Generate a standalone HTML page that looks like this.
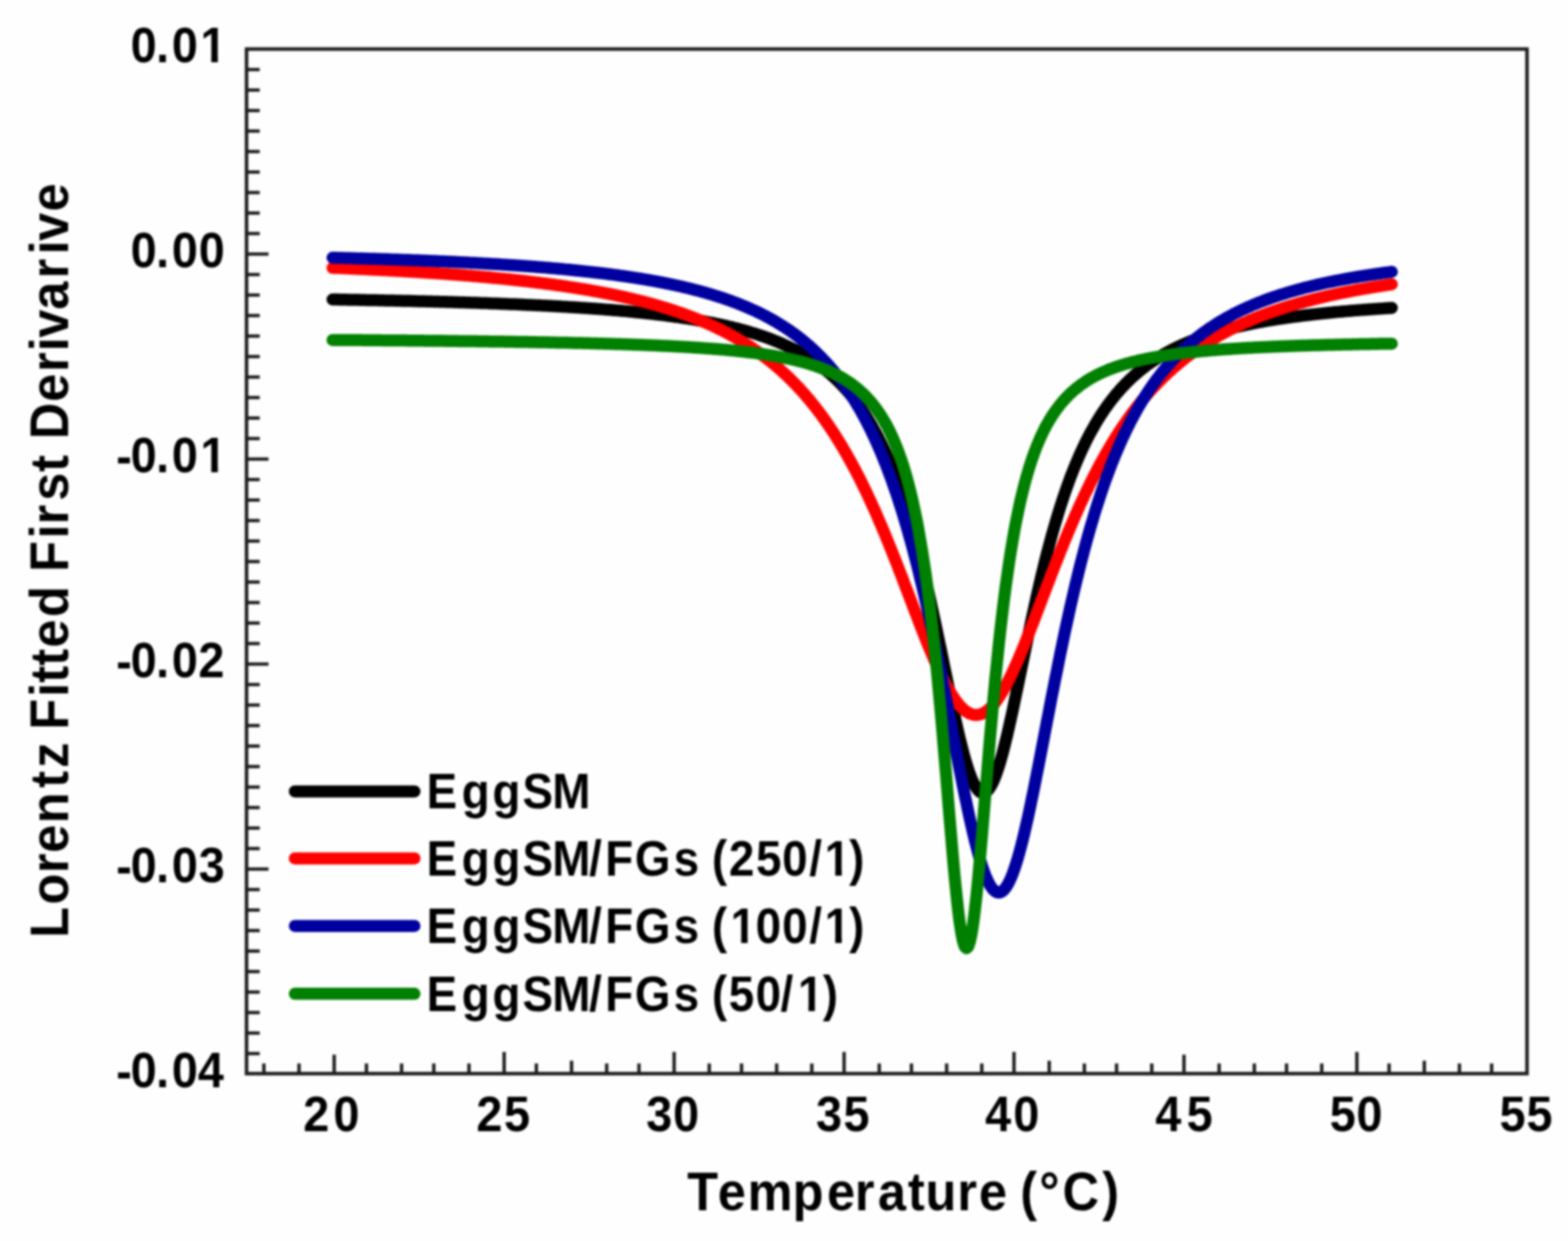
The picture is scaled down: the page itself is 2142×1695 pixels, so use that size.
<!DOCTYPE html>
<html lang="en"><head><meta charset="utf-8"><title>Lorentz Fitted First Derivative</title>
<style>
html,body{margin:0;padding:0;background:#fefefe;}
body{width:2142px;height:1695px;overflow:hidden;}
svg{display:block;}
text{font-family:"Liberation Sans",sans-serif;font-weight:bold;fill:#000;}
.tick{font-size:68px;}
.title{font-size:73.5px;}
.leg{font-size:68px;}
.curves path{fill:none;stroke-width:16.5;stroke-linecap:round;stroke-linejoin:round;}
.ax{stroke:#1c1c1c;fill:none;}
</style></head><body>
<svg width="2142" height="1695" viewBox="0 0 2142 1695">
<defs><filter id="soft" filterUnits="userSpaceOnUse" x="-40" y="-40" width="2222" height="1775" color-interpolation-filters="sRGB"><feGaussianBlur stdDeviation="1.55"/></filter></defs>
<g id="chart" filter="url(#soft)">
<rect x="-40" y="-40" width="2222" height="1775" fill="#fefefe"/>
<path class="ax" stroke-width="4.6" d="M336.8 1439.0 h18 M336.8 1411.0 h18 M336.8 1383.0 h18 M336.8 1355.0 h18 M336.8 1327.0 h18 M336.8 1299.0 h18 M336.8 1271.0 h18 M336.8 1243.0 h18 M336.8 1215.0 h18 M336.8 1187.0 h30 M336.8 1159.0 h18 M336.8 1131.0 h18 M336.8 1103.0 h18 M336.8 1075.0 h18 M336.8 1047.0 h18 M336.8 1019.0 h18 M336.8 991.0 h18 M336.8 963.0 h18 M336.8 935.0 h18 M336.8 907.0 h30 M336.8 879.0 h18 M336.8 851.0 h18 M336.8 823.0 h18 M336.8 795.0 h18 M336.8 767.0 h18 M336.8 739.0 h18 M336.8 711.0 h18 M336.8 683.0 h18 M336.8 655.0 h18 M336.8 627.0 h30 M336.8 599.0 h18 M336.8 571.0 h18 M336.8 543.0 h18 M336.8 515.0 h18 M336.8 487.0 h18 M336.8 459.0 h18 M336.8 431.0 h18 M336.8 403.0 h18 M336.8 375.0 h18 M336.8 347.0 h30 M336.8 319.0 h18 M336.8 291.0 h18 M336.8 263.0 h18 M336.8 235.0 h18 M336.8 207.0 h18 M336.8 179.0 h18 M336.8 151.0 h18 M336.8 123.0 h18 M336.8 95.0 h18 M360.5 1466.4 v-14.0 M408.5 1466.4 v-14.0 M456.5 1466.4 v-25.8 M500.6 1466.4 v-14.0 M548.6 1466.4 v-14.0 M592.6 1466.4 v-14.0 M640.7 1466.4 v-14.0 M688.7 1466.4 v-29.6 M732.7 1466.4 v-14.0 M780.8 1466.4 v-17.6 M828.8 1466.4 v-14.0 M872.9 1466.4 v-14.0 M920.9 1466.4 v-29.6 M968.9 1466.4 v-14.0 M1013.0 1466.4 v-14.0 M1061.0 1466.4 v-14.0 M1109.0 1466.4 v-14.0 M1153.1 1466.4 v-29.6 M1201.1 1466.4 v-14.0 M1245.1 1466.4 v-14.0 M1293.2 1466.4 v-14.0 M1341.2 1466.4 v-14.0 M1385.2 1466.4 v-29.6 M1433.3 1466.4 v-17.6 M1481.3 1466.4 v-14.0 M1525.3 1466.4 v-14.0 M1573.4 1466.4 v-14.0 M1617.4 1466.4 v-25.8 M1665.4 1466.4 v-14.0 M1713.5 1466.4 v-14.0 M1757.5 1466.4 v-14.0 M1805.6 1466.4 v-14.0 M1853.6 1466.4 v-29.6 M1897.6 1466.4 v-14.0 M1945.7 1466.4 v-17.6 M1993.7 1466.4 v-14.0 M2037.7 1466.4 v-14.0"/>
<rect class="ax" x="336.8" y="67.0" width="1749.2" height="1399.4" stroke-width="4.8"/>
<g class="curves">
<path d="M454.3 409.0 L456.7 409.1 L459.0 409.1 L461.3 409.1 L463.7 409.2 L466.0 409.2 L468.3 409.3 L470.7 409.3 L473.0 409.3 L475.3 409.4 L477.7 409.4 L480.0 409.5 L482.3 409.5 L484.7 409.6 L487.0 409.6 L489.3 409.6 L491.7 409.7 L494.0 409.7 L496.3 409.8 L498.7 409.8 L501.0 409.9 L503.3 409.9 L505.7 409.9 L508.0 410.0 L510.3 410.0 L512.7 410.1 L515.0 410.1 L517.3 410.2 L519.7 410.2 L522.0 410.3 L524.3 410.3 L526.7 410.4 L529.0 410.4 L531.4 410.5 L533.7 410.5 L536.0 410.6 L538.4 410.6 L540.7 410.7 L543.0 410.7 L545.4 410.8 L547.7 410.8 L550.0 410.9 L552.4 410.9 L554.7 411.0 L557.0 411.0 L559.4 411.1 L561.7 411.1 L564.0 411.2 L566.4 411.3 L568.7 411.3 L571.0 411.4 L573.4 411.4 L575.7 411.5 L578.0 411.5 L580.4 411.6 L582.7 411.7 L585.0 411.7 L587.4 411.8 L589.7 411.8 L592.0 411.9 L594.4 412.0 L596.7 412.0 L599.0 412.1 L601.4 412.2 L603.7 412.2 L606.0 412.3 L608.4 412.3 L610.7 412.4 L613.0 412.5 L615.4 412.5 L617.7 412.6 L620.0 412.7 L622.4 412.8 L624.7 412.8 L627.0 412.9 L629.4 413.0 L631.7 413.0 L634.0 413.1 L636.4 413.2 L638.7 413.3 L641.0 413.3 L643.4 413.4 L645.7 413.5 L648.0 413.6 L650.4 413.6 L652.7 413.7 L655.0 413.8 L657.4 413.9 L659.7 414.0 L662.0 414.0 L664.4 414.1 L666.7 414.2 L669.0 414.3 L671.4 414.4 L673.7 414.5 L676.0 414.5 L678.4 414.6 L680.7 414.7 L683.0 414.8 L685.4 414.9 L687.7 415.0 L690.0 415.1 L692.4 415.2 L694.7 415.3 L697.0 415.4 L699.4 415.5 L701.7 415.5 L704.0 415.6 L706.4 415.7 L708.7 415.8 L711.1 415.9 L713.4 416.0 L715.7 416.2 L718.1 416.3 L720.4 416.4 L722.7 416.5 L725.1 416.6 L727.4 416.7 L729.7 416.8 L732.1 416.9 L734.4 417.0 L736.7 417.1 L739.1 417.2 L741.4 417.4 L743.7 417.5 L746.1 417.6 L748.4 417.7 L750.7 417.8 L753.1 418.0 L755.4 418.1 L757.7 418.2 L760.1 418.3 L762.4 418.5 L764.7 418.6 L767.1 418.7 L769.4 418.9 L771.7 419.0 L774.1 419.1 L776.4 419.3 L778.7 419.4 L781.1 419.5 L783.4 419.7 L785.7 419.8 L788.1 420.0 L790.4 420.1 L792.7 420.3 L795.1 420.4 L797.4 420.6 L799.7 420.7 L802.1 420.9 L804.4 421.1 L806.7 421.2 L809.1 421.4 L811.4 421.5 L813.7 421.7 L816.1 421.9 L818.4 422.1 L820.7 422.2 L823.1 422.4 L825.4 422.6 L827.7 422.8 L830.1 422.9 L832.4 423.1 L834.7 423.3 L837.1 423.5 L839.4 423.7 L841.7 423.9 L844.1 424.1 L846.4 424.3 L848.7 424.5 L851.1 424.7 L853.4 424.9 L855.7 425.1 L858.1 425.3 L860.4 425.6 L862.7 425.8 L865.1 426.0 L867.4 426.2 L869.7 426.5 L872.1 426.7 L874.4 426.9 L876.7 427.2 L879.1 427.4 L881.4 427.7 L883.7 427.9 L886.1 428.2 L888.4 428.4 L890.7 428.7 L893.1 428.9 L895.4 429.2 L897.8 429.5 L900.1 429.8 L902.4 430.0 L904.8 430.3 L907.1 430.6 L909.4 430.9 L911.8 431.2 L914.1 431.5 L916.4 431.8 L918.8 432.1 L921.1 432.5 L923.4 432.8 L925.8 433.1 L928.1 433.4 L930.4 433.8 L932.8 434.1 L935.1 434.5 L937.4 434.8 L939.8 435.2 L942.1 435.6 L944.4 435.9 L946.8 436.3 L949.1 436.7 L951.4 437.1 L953.8 437.5 L956.1 437.9 L958.4 438.3 L960.8 438.7 L963.1 439.1 L965.4 439.6 L967.8 440.0 L970.1 440.5 L972.4 440.9 L974.8 441.4 L977.1 441.9 L979.4 442.3 L981.8 442.8 L984.1 443.3 L986.4 443.8 L988.8 444.4 L991.1 444.9 L993.4 445.4 L995.8 446.0 L998.1 446.5 L1000.4 447.1 L1002.8 447.7 L1005.1 448.2 L1007.4 448.8 L1009.8 449.4 L1012.1 450.1 L1014.4 450.7 L1016.8 451.3 L1019.1 452.0 L1021.4 452.7 L1023.8 453.4 L1026.1 454.1 L1028.4 454.8 L1030.8 455.5 L1033.1 456.2 L1035.4 457.0 L1037.8 457.8 L1040.1 458.6 L1042.4 459.4 L1044.8 460.2 L1047.1 461.0 L1049.4 461.9 L1051.8 462.7 L1054.1 463.6 L1056.4 464.6 L1058.8 465.5 L1061.1 466.4 L1063.4 467.4 L1065.8 468.4 L1068.1 469.4 L1070.4 470.5 L1072.8 471.5 L1075.1 472.6 L1077.5 473.7 L1079.8 474.9 L1082.1 476.0 L1084.5 477.2 L1086.8 478.4 L1089.1 479.7 L1091.5 480.9 L1093.8 482.3 L1096.1 483.6 L1098.5 485.0 L1100.8 486.4 L1103.1 487.8 L1105.5 489.3 L1107.8 490.8 L1110.1 492.3 L1112.5 493.9 L1114.8 495.5 L1117.1 497.2 L1119.5 498.9 L1121.8 500.7 L1124.1 502.5 L1126.5 504.3 L1128.8 506.2 L1131.1 508.2 L1133.5 510.1 L1135.8 512.2 L1138.1 514.3 L1140.5 516.5 L1142.8 518.7 L1145.1 521.0 L1147.5 523.3 L1149.8 525.7 L1152.1 528.2 L1154.5 530.7 L1156.8 533.3 L1159.1 536.0 L1161.5 538.8 L1163.8 541.6 L1166.1 544.6 L1168.5 547.6 L1170.8 550.7 L1173.1 553.9 L1175.5 557.2 L1177.8 560.5 L1180.1 564.0 L1182.5 567.6 L1184.8 571.3 L1187.1 575.1 L1189.5 579.0 L1191.8 583.1 L1194.1 587.2 L1196.5 591.5 L1198.8 595.9 L1201.1 600.5 L1203.5 605.2 L1205.8 610.0 L1208.1 615.0 L1210.5 620.2 L1212.8 625.5 L1215.1 630.9 L1217.5 636.6 L1219.8 642.4 L1222.1 648.3 L1224.5 654.5 L1226.8 660.8 L1229.1 667.4 L1231.5 674.1 L1233.8 681.1 L1236.1 688.2 L1238.5 695.6 L1240.8 703.1 L1243.1 710.9 L1245.5 718.9 L1247.8 727.1 L1250.1 735.6 L1252.5 744.3 L1254.8 753.2 L1257.1 762.3 L1259.5 771.6 L1261.8 781.2 L1264.2 790.9 L1266.5 800.9 L1268.8 811.1 L1271.2 821.5 L1273.5 832.1 L1275.8 842.8 L1278.2 853.7 L1280.5 864.7 L1282.8 875.9 L1285.2 887.1 L1287.5 898.4 L1289.8 909.8 L1292.2 921.1 L1294.5 932.4 L1296.8 943.7 L1299.2 954.9 L1301.5 965.9 L1303.8 976.7 L1306.2 987.3 L1308.5 997.6 L1310.8 1007.6 L1313.2 1017.1 L1315.5 1026.2 L1317.8 1034.8 L1320.2 1042.9 L1322.5 1050.3 L1324.8 1057.1 L1327.2 1063.2 L1329.5 1068.5 L1331.8 1073.1 L1334.2 1076.8 L1336.5 1079.7 L1338.8 1081.7 L1341.2 1082.8 L1342.9 1083.0 L1343.5 1083.0 L1345.8 1082.3 L1348.2 1080.7 L1350.5 1078.3 L1352.8 1075.0 L1355.2 1070.8 L1357.5 1065.9 L1359.8 1060.1 L1362.2 1053.7 L1364.5 1046.6 L1366.8 1038.8 L1369.2 1030.5 L1371.5 1021.6 L1373.8 1012.2 L1376.2 1002.5 L1378.5 992.3 L1380.8 981.9 L1383.2 971.2 L1385.5 960.3 L1387.8 949.2 L1390.2 937.9 L1392.5 926.6 L1394.8 915.3 L1397.2 903.9 L1399.5 892.6 L1401.8 881.3 L1404.2 870.1 L1406.5 859.1 L1408.8 848.1 L1411.2 837.3 L1413.5 826.7 L1415.8 816.2 L1418.2 805.9 L1420.5 795.8 L1422.8 786.0 L1425.2 776.3 L1427.5 766.8 L1429.8 757.6 L1432.2 748.6 L1434.5 739.9 L1436.8 731.3 L1439.2 723.0 L1441.5 714.9 L1443.9 707.0 L1446.2 699.3 L1448.5 691.9 L1450.9 684.6 L1453.2 677.6 L1455.5 670.8 L1457.9 664.1 L1460.2 657.7 L1462.5 651.4 L1464.9 645.4 L1467.2 639.5 L1469.5 633.8 L1471.9 628.2 L1474.2 622.9 L1476.5 617.7 L1478.9 612.6 L1481.2 607.7 L1483.5 602.9 L1485.9 598.3 L1488.2 593.8 L1490.5 589.5 L1492.9 585.3 L1495.2 581.2 L1497.5 577.2 L1499.9 573.3 L1502.2 569.6 L1504.5 566.0 L1506.9 562.4 L1509.2 559.0 L1511.5 555.7 L1513.9 552.4 L1516.2 549.3 L1518.5 546.3 L1520.9 543.3 L1523.2 540.4 L1525.5 537.6 L1527.9 534.9 L1530.2 532.2 L1532.5 529.7 L1534.9 527.2 L1537.2 524.7 L1539.5 522.4 L1541.9 520.0 L1544.2 517.8 L1546.5 515.6 L1548.9 513.5 L1551.2 511.4 L1553.5 509.4 L1555.9 507.4 L1558.2 505.5 L1560.5 503.7 L1562.9 501.8 L1565.2 500.1 L1567.5 498.3 L1569.9 496.7 L1572.2 495.0 L1574.5 493.4 L1576.9 491.8 L1579.2 490.3 L1581.5 488.8 L1583.9 487.4 L1586.2 486.0 L1588.5 484.6 L1590.9 483.2 L1593.2 481.9 L1595.5 480.6 L1597.9 479.4 L1600.2 478.1 L1602.5 476.9 L1604.9 475.8 L1607.2 474.6 L1609.5 473.5 L1611.9 472.4 L1614.2 471.3 L1616.5 470.3 L1618.9 469.3 L1621.2 468.3 L1623.5 467.3 L1625.9 466.3 L1628.2 465.4 L1630.6 464.5 L1632.9 463.6 L1635.2 462.7 L1637.6 461.8 L1639.9 461.0 L1642.2 460.2 L1644.6 459.4 L1646.9 458.6 L1649.2 457.8 L1651.6 457.0 L1653.9 456.3 L1656.2 455.6 L1658.6 454.8 L1660.9 454.1 L1663.2 453.4 L1665.6 452.8 L1667.9 452.1 L1670.2 451.5 L1672.6 450.8 L1674.9 450.2 L1677.2 449.6 L1679.6 449.0 L1681.9 448.4 L1684.2 447.8 L1686.6 447.3 L1688.9 446.7 L1691.2 446.2 L1693.6 445.6 L1695.9 445.1 L1698.2 444.6 L1700.6 444.1 L1702.9 443.6 L1705.2 443.1 L1707.6 442.6 L1709.9 442.1 L1712.2 441.7 L1714.6 441.2 L1716.9 440.8 L1719.2 440.3 L1721.6 439.9 L1723.9 439.5 L1726.2 439.0 L1728.6 438.6 L1730.9 438.2 L1733.2 437.8 L1735.6 437.4 L1737.9 437.0 L1740.2 436.7 L1742.6 436.3 L1744.9 435.9 L1747.2 435.6 L1749.6 435.2 L1751.9 434.9 L1754.2 434.5 L1756.6 434.2 L1758.9 433.8 L1761.2 433.5 L1763.6 433.2 L1765.9 432.9 L1768.2 432.6 L1770.6 432.3 L1772.9 432.0 L1775.2 431.7 L1777.6 431.4 L1779.9 431.1 L1782.2 430.8 L1784.6 430.5 L1786.9 430.2 L1789.2 430.0 L1791.6 429.7 L1793.9 429.4 L1796.2 429.2 L1798.6 428.9 L1800.9 428.7 L1803.2 428.4 L1805.6 428.2 L1807.9 427.9 L1810.3 427.7 L1812.6 427.5 L1814.9 427.2 L1817.3 427.0 L1819.6 426.8 L1821.9 426.5 L1824.3 426.3 L1826.6 426.1 L1828.9 425.9 L1831.3 425.7 L1833.6 425.5 L1835.9 425.3 L1838.3 425.1 L1840.6 424.9 L1842.9 424.7 L1845.3 424.5 L1847.6 424.3 L1849.9 424.1 L1852.3 423.9 L1854.6 423.7 L1856.9 423.6 L1859.3 423.4 L1861.6 423.2 L1863.9 423.0 L1866.3 422.9 L1868.6 422.7 L1870.9 422.5 L1873.3 422.4 L1875.6 422.2 L1877.9 422.0 L1880.3 421.9 L1882.6 421.7 L1884.9 421.6 L1887.3 421.4 L1889.6 421.3 L1891.9 421.1 L1894.3 421.0 L1896.6 420.8 L1898.9 420.7 L1901.3 420.5" stroke="#000000"/>
<path d="M454.3 365.8 L456.7 365.9 L459.0 366.0 L461.3 366.1 L463.7 366.1 L466.0 366.2 L468.3 366.3 L470.7 366.4 L473.0 366.5 L475.3 366.6 L477.7 366.7 L480.0 366.9 L482.3 367.0 L484.7 367.1 L487.0 367.2 L489.3 367.3 L491.7 367.4 L494.0 367.5 L496.3 367.6 L498.7 367.7 L501.0 367.8 L503.3 367.9 L505.7 368.0 L508.0 368.2 L510.3 368.3 L512.7 368.4 L515.0 368.5 L517.3 368.6 L519.7 368.7 L522.0 368.9 L524.3 369.0 L526.7 369.1 L529.0 369.2 L531.4 369.4 L533.7 369.5 L536.0 369.6 L538.4 369.7 L540.7 369.9 L543.0 370.0 L545.4 370.1 L547.7 370.2 L550.0 370.4 L552.4 370.5 L554.7 370.7 L557.0 370.8 L559.4 370.9 L561.7 371.1 L564.0 371.2 L566.4 371.3 L568.7 371.5 L571.0 371.6 L573.4 371.8 L575.7 371.9 L578.0 372.1 L580.4 372.2 L582.7 372.4 L585.0 372.5 L587.4 372.7 L589.7 372.8 L592.0 373.0 L594.4 373.1 L596.7 373.3 L599.0 373.5 L601.4 373.6 L603.7 373.8 L606.0 373.9 L608.4 374.1 L610.7 374.3 L613.0 374.5 L615.4 374.6 L617.7 374.8 L620.0 375.0 L622.4 375.1 L624.7 375.3 L627.0 375.5 L629.4 375.7 L631.7 375.9 L634.0 376.0 L636.4 376.2 L638.7 376.4 L641.0 376.6 L643.4 376.8 L645.7 377.0 L648.0 377.2 L650.4 377.4 L652.7 377.6 L655.0 377.8 L657.4 378.0 L659.7 378.2 L662.0 378.4 L664.4 378.6 L666.7 378.8 L669.0 379.0 L671.4 379.3 L673.7 379.5 L676.0 379.7 L678.4 379.9 L680.7 380.1 L683.0 380.4 L685.4 380.6 L687.7 380.8 L690.0 381.1 L692.4 381.3 L694.7 381.5 L697.0 381.8 L699.4 382.0 L701.7 382.3 L704.0 382.5 L706.4 382.8 L708.7 383.0 L711.1 383.3 L713.4 383.5 L715.7 383.8 L718.1 384.1 L720.4 384.3 L722.7 384.6 L725.1 384.9 L727.4 385.2 L729.7 385.4 L732.1 385.7 L734.4 386.0 L736.7 386.3 L739.1 386.6 L741.4 386.9 L743.7 387.2 L746.1 387.5 L748.4 387.8 L750.7 388.1 L753.1 388.4 L755.4 388.7 L757.7 389.0 L760.1 389.4 L762.4 389.7 L764.7 390.0 L767.1 390.3 L769.4 390.7 L771.7 391.0 L774.1 391.4 L776.4 391.7 L778.7 392.1 L781.1 392.4 L783.4 392.8 L785.7 393.2 L788.1 393.5 L790.4 393.9 L792.7 394.3 L795.1 394.7 L797.4 395.0 L799.7 395.4 L802.1 395.8 L804.4 396.2 L806.7 396.6 L809.1 397.1 L811.4 397.5 L813.7 397.9 L816.1 398.3 L818.4 398.7 L820.7 399.2 L823.1 399.6 L825.4 400.1 L827.7 400.5 L830.1 401.0 L832.4 401.4 L834.7 401.9 L837.1 402.4 L839.4 402.9 L841.7 403.4 L844.1 403.9 L846.4 404.4 L848.7 404.9 L851.1 405.4 L853.4 405.9 L855.7 406.4 L858.1 407.0 L860.4 407.5 L862.7 408.1 L865.1 408.6 L867.4 409.2 L869.7 409.7 L872.1 410.3 L874.4 410.9 L876.7 411.5 L879.1 412.1 L881.4 412.7 L883.7 413.3 L886.1 413.9 L888.4 414.6 L890.7 415.2 L893.1 415.9 L895.4 416.5 L897.8 417.2 L900.1 417.9 L902.4 418.6 L904.8 419.3 L907.1 420.0 L909.4 420.7 L911.8 421.4 L914.1 422.2 L916.4 422.9 L918.8 423.7 L921.1 424.4 L923.4 425.2 L925.8 426.0 L928.1 426.8 L930.4 427.6 L932.8 428.4 L935.1 429.3 L937.4 430.1 L939.8 431.0 L942.1 431.9 L944.4 432.8 L946.8 433.7 L949.1 434.6 L951.4 435.5 L953.8 436.5 L956.1 437.4 L958.4 438.4 L960.8 439.4 L963.1 440.4 L965.4 441.4 L967.8 442.4 L970.1 443.5 L972.4 444.5 L974.8 445.6 L977.1 446.7 L979.4 447.8 L981.8 449.0 L984.1 450.1 L986.4 451.3 L988.8 452.5 L991.1 453.7 L993.4 454.9 L995.8 456.2 L998.1 457.4 L1000.4 458.7 L1002.8 460.0 L1005.1 461.3 L1007.4 462.7 L1009.8 464.1 L1012.1 465.5 L1014.4 466.9 L1016.8 468.3 L1019.1 469.8 L1021.4 471.3 L1023.8 472.8 L1026.1 474.3 L1028.4 475.9 L1030.8 477.5 L1033.1 479.1 L1035.4 480.7 L1037.8 482.4 L1040.1 484.1 L1042.4 485.8 L1044.8 487.6 L1047.1 489.4 L1049.4 491.2 L1051.8 493.1 L1054.1 494.9 L1056.4 496.9 L1058.8 498.8 L1061.1 500.8 L1063.4 502.8 L1065.8 504.9 L1068.1 507.0 L1070.4 509.1 L1072.8 511.2 L1075.1 513.4 L1077.5 515.7 L1079.8 518.0 L1082.1 520.3 L1084.5 522.7 L1086.8 525.1 L1089.1 527.5 L1091.5 530.0 L1093.8 532.5 L1096.1 535.1 L1098.5 537.7 L1100.8 540.4 L1103.1 543.1 L1105.5 545.9 L1107.8 548.7 L1110.1 551.6 L1112.5 554.5 L1114.8 557.5 L1117.1 560.5 L1119.5 563.6 L1121.8 566.7 L1124.1 569.9 L1126.5 573.2 L1128.8 576.5 L1131.1 579.8 L1133.5 583.3 L1135.8 586.8 L1138.1 590.3 L1140.5 593.9 L1142.8 597.6 L1145.1 601.3 L1147.5 605.1 L1149.8 609.0 L1152.1 612.9 L1154.5 616.9 L1156.8 621.0 L1159.1 625.1 L1161.5 629.3 L1163.8 633.5 L1166.1 637.9 L1168.5 642.3 L1170.8 646.8 L1173.1 651.3 L1175.5 655.9 L1177.8 660.6 L1180.1 665.4 L1182.5 670.2 L1184.8 675.1 L1187.1 680.1 L1189.5 685.1 L1191.8 690.3 L1194.1 695.4 L1196.5 700.7 L1198.8 706.0 L1201.1 711.4 L1203.5 716.8 L1205.8 722.4 L1208.1 727.9 L1210.5 733.6 L1212.8 739.3 L1215.1 745.0 L1217.5 750.8 L1219.8 756.7 L1222.1 762.6 L1224.5 768.5 L1226.8 774.5 L1229.1 780.5 L1231.5 786.6 L1233.8 792.7 L1236.1 798.8 L1238.5 804.9 L1240.8 811.0 L1243.1 817.2 L1245.5 823.3 L1247.8 829.5 L1250.1 835.6 L1252.5 841.7 L1254.8 847.8 L1257.1 853.9 L1259.5 859.9 L1261.8 865.9 L1264.2 871.8 L1266.5 877.6 L1268.8 883.4 L1271.2 889.1 L1273.5 894.6 L1275.8 900.1 L1278.2 905.5 L1280.5 910.7 L1282.8 915.9 L1285.2 920.8 L1287.5 925.7 L1289.8 930.3 L1292.2 934.8 L1294.5 939.1 L1296.8 943.2 L1299.2 947.1 L1301.5 950.8 L1303.8 954.3 L1306.2 957.6 L1308.5 960.6 L1310.8 963.4 L1313.2 965.9 L1315.5 968.2 L1317.8 970.2 L1320.2 971.9 L1322.5 973.4 L1324.8 974.6 L1327.2 975.5 L1329.5 976.1 L1331.8 976.5 L1333.6 976.5 L1334.2 976.5 L1336.5 976.3 L1338.8 975.8 L1341.2 975.0 L1343.5 974.0 L1345.8 972.6 L1348.2 971.0 L1350.5 969.1 L1352.8 967.0 L1355.2 964.6 L1357.5 961.9 L1359.8 959.0 L1362.2 955.9 L1364.5 952.5 L1366.8 948.9 L1369.2 945.1 L1371.5 941.0 L1373.8 936.8 L1376.2 932.4 L1378.5 927.8 L1380.8 923.1 L1383.2 918.2 L1385.5 913.1 L1387.8 908.0 L1390.2 902.6 L1392.5 897.2 L1394.8 891.6 L1397.2 886.0 L1399.5 880.3 L1401.8 874.5 L1404.2 868.6 L1406.5 862.6 L1408.8 856.6 L1411.2 850.6 L1413.5 844.5 L1415.8 838.4 L1418.2 832.3 L1420.5 826.1 L1422.8 820.0 L1425.2 813.8 L1427.5 807.6 L1429.8 801.5 L1432.2 795.4 L1434.5 789.3 L1436.8 783.2 L1439.2 777.2 L1441.5 771.1 L1443.9 765.2 L1446.2 759.2 L1448.5 753.3 L1450.9 747.5 L1453.2 741.7 L1455.5 736.0 L1457.9 730.3 L1460.2 724.7 L1462.5 719.2 L1464.9 713.7 L1467.2 708.2 L1469.5 702.9 L1471.9 697.6 L1474.2 692.4 L1476.5 687.2 L1478.9 682.1 L1481.2 677.1 L1483.5 672.2 L1485.9 667.3 L1488.2 662.5 L1490.5 657.7 L1492.9 653.1 L1495.2 648.5 L1497.5 644.0 L1499.9 639.5 L1502.2 635.1 L1504.5 630.8 L1506.9 626.6 L1509.2 622.4 L1511.5 618.3 L1513.9 614.3 L1516.2 610.3 L1518.5 606.4 L1520.9 602.6 L1523.2 598.8 L1525.5 595.1 L1527.9 591.4 L1530.2 587.9 L1532.5 584.3 L1534.9 580.9 L1537.2 577.5 L1539.5 574.1 L1541.9 570.8 L1544.2 567.6 L1546.5 564.4 L1548.9 561.3 L1551.2 558.3 L1553.5 555.3 L1555.9 552.3 L1558.2 549.4 L1560.5 546.6 L1562.9 543.7 L1565.2 541.0 L1567.5 538.3 L1569.9 535.6 L1572.2 533.0 L1574.5 530.5 L1576.9 527.9 L1579.2 525.5 L1581.5 523.0 L1583.9 520.6 L1586.2 518.3 L1588.5 516.0 L1590.9 513.7 L1593.2 511.5 L1595.5 509.3 L1597.9 507.1 L1600.2 505.0 L1602.5 502.9 L1604.9 500.9 L1607.2 498.9 L1609.5 496.9 L1611.9 495.0 L1614.2 493.1 L1616.5 491.2 L1618.9 489.3 L1621.2 487.5 L1623.5 485.7 L1625.9 484.0 L1628.2 482.3 L1630.6 480.6 L1632.9 478.9 L1635.2 477.3 L1637.6 475.7 L1639.9 474.1 L1642.2 472.5 L1644.6 471.0 L1646.9 469.5 L1649.2 468.0 L1651.6 466.5 L1653.9 465.1 L1656.2 463.7 L1658.6 462.3 L1660.9 460.9 L1663.2 459.6 L1665.6 458.2 L1667.9 456.9 L1670.2 455.7 L1672.6 454.4 L1674.9 453.2 L1677.2 451.9 L1679.6 450.7 L1681.9 449.5 L1684.2 448.4 L1686.6 447.2 L1688.9 446.1 L1691.2 445.0 L1693.6 443.9 L1695.9 442.8 L1698.2 441.7 L1700.6 440.7 L1702.9 439.7 L1705.2 438.6 L1707.6 437.6 L1709.9 436.6 L1712.2 435.7 L1714.6 434.7 L1716.9 433.8 L1719.2 432.8 L1721.6 431.9 L1723.9 431.0 L1726.2 430.1 L1728.6 429.3 L1730.9 428.4 L1733.2 427.5 L1735.6 426.7 L1737.9 425.9 L1740.2 425.1 L1742.6 424.2 L1744.9 423.5 L1747.2 422.7 L1749.6 421.9 L1751.9 421.1 L1754.2 420.4 L1756.6 419.6 L1758.9 418.9 L1761.2 418.2 L1763.6 417.5 L1765.9 416.8 L1768.2 416.1 L1770.6 415.4 L1772.9 414.7 L1775.2 414.1 L1777.6 413.4 L1779.9 412.8 L1782.2 412.1 L1784.6 411.5 L1786.9 410.9 L1789.2 410.3 L1791.6 409.7 L1793.9 409.1 L1796.2 408.5 L1798.6 407.9 L1800.9 407.3 L1803.2 406.8 L1805.6 406.2 L1807.9 405.7 L1810.3 405.1 L1812.6 404.6 L1814.9 404.0 L1817.3 403.5 L1819.6 403.0 L1821.9 402.5 L1824.3 402.0 L1826.6 401.5 L1828.9 401.0 L1831.3 400.5 L1833.6 400.0 L1835.9 399.5 L1838.3 399.1 L1840.6 398.6 L1842.9 398.2 L1845.3 397.7 L1847.6 397.3 L1849.9 396.8 L1852.3 396.4 L1854.6 395.9 L1856.9 395.5 L1859.3 395.1 L1861.6 394.7 L1863.9 394.3 L1866.3 393.9 L1868.6 393.5 L1870.9 393.1 L1873.3 392.7 L1875.6 392.3 L1877.9 391.9 L1880.3 391.5 L1882.6 391.1 L1884.9 390.8 L1887.3 390.4 L1889.6 390.0 L1891.9 389.7 L1894.3 389.3 L1896.6 389.0 L1898.9 388.6 L1901.3 388.3" stroke="#ff0000"/>
<path d="M454.3 352.0 L456.7 352.0 L459.0 352.1 L461.3 352.2 L463.7 352.2 L466.0 352.3 L468.3 352.3 L470.7 352.4 L473.0 352.5 L475.3 352.5 L477.7 352.6 L480.0 352.7 L482.3 352.7 L484.7 352.8 L487.0 352.9 L489.3 352.9 L491.7 353.0 L494.0 353.1 L496.3 353.1 L498.7 353.2 L501.0 353.3 L503.3 353.3 L505.7 353.4 L508.0 353.5 L510.3 353.5 L512.7 353.6 L515.0 353.7 L517.3 353.8 L519.7 353.8 L522.0 353.9 L524.3 354.0 L526.7 354.1 L529.0 354.1 L531.4 354.2 L533.7 354.3 L536.0 354.4 L538.4 354.4 L540.7 354.5 L543.0 354.6 L545.4 354.7 L547.7 354.8 L550.0 354.9 L552.4 354.9 L554.7 355.0 L557.0 355.1 L559.4 355.2 L561.7 355.3 L564.0 355.4 L566.4 355.5 L568.7 355.5 L571.0 355.6 L573.4 355.7 L575.7 355.8 L578.0 355.9 L580.4 356.0 L582.7 356.1 L585.0 356.2 L587.4 356.3 L589.7 356.4 L592.0 356.5 L594.4 356.6 L596.7 356.7 L599.0 356.8 L601.4 356.9 L603.7 357.0 L606.0 357.1 L608.4 357.2 L610.7 357.3 L613.0 357.4 L615.4 357.5 L617.7 357.6 L620.0 357.7 L622.4 357.8 L624.7 357.9 L627.0 358.1 L629.4 358.2 L631.7 358.3 L634.0 358.4 L636.4 358.5 L638.7 358.6 L641.0 358.8 L643.4 358.9 L645.7 359.0 L648.0 359.1 L650.4 359.2 L652.7 359.4 L655.0 359.5 L657.4 359.6 L659.7 359.8 L662.0 359.9 L664.4 360.0 L666.7 360.2 L669.0 360.3 L671.4 360.4 L673.7 360.6 L676.0 360.7 L678.4 360.8 L680.7 361.0 L683.0 361.1 L685.4 361.3 L687.7 361.4 L690.0 361.6 L692.4 361.7 L694.7 361.9 L697.0 362.0 L699.4 362.2 L701.7 362.3 L704.0 362.5 L706.4 362.6 L708.7 362.8 L711.1 363.0 L713.4 363.1 L715.7 363.3 L718.1 363.5 L720.4 363.6 L722.7 363.8 L725.1 364.0 L727.4 364.1 L729.7 364.3 L732.1 364.5 L734.4 364.7 L736.7 364.9 L739.1 365.0 L741.4 365.2 L743.7 365.4 L746.1 365.6 L748.4 365.8 L750.7 366.0 L753.1 366.2 L755.4 366.4 L757.7 366.6 L760.1 366.8 L762.4 367.0 L764.7 367.2 L767.1 367.4 L769.4 367.6 L771.7 367.9 L774.1 368.1 L776.4 368.3 L778.7 368.5 L781.1 368.8 L783.4 369.0 L785.7 369.2 L788.1 369.5 L790.4 369.7 L792.7 369.9 L795.1 370.2 L797.4 370.4 L799.7 370.7 L802.1 370.9 L804.4 371.2 L806.7 371.4 L809.1 371.7 L811.4 372.0 L813.7 372.2 L816.1 372.5 L818.4 372.8 L820.7 373.1 L823.1 373.3 L825.4 373.6 L827.7 373.9 L830.1 374.2 L832.4 374.5 L834.7 374.8 L837.1 375.1 L839.4 375.4 L841.7 375.7 L844.1 376.0 L846.4 376.4 L848.7 376.7 L851.1 377.0 L853.4 377.3 L855.7 377.7 L858.1 378.0 L860.4 378.4 L862.7 378.7 L865.1 379.1 L867.4 379.4 L869.7 379.8 L872.1 380.2 L874.4 380.5 L876.7 380.9 L879.1 381.3 L881.4 381.7 L883.7 382.1 L886.1 382.5 L888.4 382.9 L890.7 383.3 L893.1 383.7 L895.4 384.2 L897.8 384.6 L900.1 385.0 L902.4 385.5 L904.8 385.9 L907.1 386.4 L909.4 386.8 L911.8 387.3 L914.1 387.8 L916.4 388.3 L918.8 388.8 L921.1 389.3 L923.4 389.8 L925.8 390.3 L928.1 390.8 L930.4 391.3 L932.8 391.9 L935.1 392.4 L937.4 393.0 L939.8 393.5 L942.1 394.1 L944.4 394.7 L946.8 395.3 L949.1 395.9 L951.4 396.5 L953.8 397.1 L956.1 397.7 L958.4 398.3 L960.8 399.0 L963.1 399.6 L965.4 400.3 L967.8 401.0 L970.1 401.7 L972.4 402.4 L974.8 403.1 L977.1 403.8 L979.4 404.5 L981.8 405.3 L984.1 406.0 L986.4 406.8 L988.8 407.6 L991.1 408.4 L993.4 409.2 L995.8 410.0 L998.1 410.9 L1000.4 411.7 L1002.8 412.6 L1005.1 413.5 L1007.4 414.4 L1009.8 415.3 L1012.1 416.2 L1014.4 417.2 L1016.8 418.1 L1019.1 419.1 L1021.4 420.1 L1023.8 421.1 L1026.1 422.2 L1028.4 423.2 L1030.8 424.3 L1033.1 425.4 L1035.4 426.5 L1037.8 427.6 L1040.1 428.8 L1042.4 430.0 L1044.8 431.2 L1047.1 432.4 L1049.4 433.7 L1051.8 434.9 L1054.1 436.2 L1056.4 437.5 L1058.8 438.9 L1061.1 440.3 L1063.4 441.7 L1065.8 443.1 L1068.1 444.6 L1070.4 446.0 L1072.8 447.6 L1075.1 449.1 L1077.5 450.7 L1079.8 452.3 L1082.1 453.9 L1084.5 455.6 L1086.8 457.3 L1089.1 459.1 L1091.5 460.9 L1093.8 462.7 L1096.1 464.6 L1098.5 466.5 L1100.8 468.4 L1103.1 470.4 L1105.5 472.4 L1107.8 474.5 L1110.1 476.6 L1112.5 478.8 L1114.8 481.0 L1117.1 483.3 L1119.5 485.6 L1121.8 488.0 L1124.1 490.4 L1126.5 492.9 L1128.8 495.4 L1131.1 498.0 L1133.5 500.6 L1135.8 503.3 L1138.1 506.1 L1140.5 509.0 L1142.8 511.9 L1145.1 514.8 L1147.5 517.9 L1149.8 521.0 L1152.1 524.2 L1154.5 527.5 L1156.8 530.8 L1159.1 534.2 L1161.5 537.7 L1163.8 541.3 L1166.1 545.0 L1168.5 548.8 L1170.8 552.7 L1173.1 556.6 L1175.5 560.7 L1177.8 564.9 L1180.1 569.1 L1182.5 573.5 L1184.8 578.0 L1187.1 582.6 L1189.5 587.3 L1191.8 592.2 L1194.1 597.1 L1196.5 602.2 L1198.8 607.4 L1201.1 612.7 L1203.5 618.2 L1205.8 623.8 L1208.1 629.6 L1210.5 635.5 L1212.8 641.6 L1215.1 647.8 L1217.5 654.1 L1219.8 660.7 L1222.1 667.4 L1224.5 674.2 L1226.8 681.3 L1229.1 688.5 L1231.5 695.8 L1233.8 703.4 L1236.1 711.1 L1238.5 719.1 L1240.8 727.2 L1243.1 735.5 L1245.5 744.0 L1247.8 752.7 L1250.1 761.6 L1252.5 770.7 L1254.8 780.0 L1257.1 789.5 L1259.5 799.2 L1261.8 809.1 L1264.2 819.2 L1266.5 829.4 L1268.8 839.9 L1271.2 850.6 L1273.5 861.4 L1275.8 872.4 L1278.2 883.6 L1280.5 894.9 L1282.8 906.4 L1285.2 918.0 L1287.5 929.8 L1289.8 941.6 L1292.2 953.6 L1294.5 965.6 L1296.8 977.7 L1299.2 989.9 L1301.5 1002.0 L1303.8 1014.2 L1306.2 1026.3 L1308.5 1038.4 L1310.8 1050.3 L1313.2 1062.2 L1315.5 1073.9 L1317.8 1085.4 L1320.2 1096.6 L1322.5 1107.6 L1324.8 1118.4 L1327.2 1128.7 L1329.5 1138.7 L1331.8 1148.3 L1334.2 1157.4 L1336.5 1166.1 L1338.8 1174.2 L1341.2 1181.7 L1343.5 1188.6 L1345.8 1194.9 L1348.2 1200.5 L1350.5 1205.4 L1352.8 1209.6 L1355.2 1213.1 L1357.5 1215.7 L1359.8 1217.6 L1362.2 1218.8 L1364.3 1219.1 L1364.5 1219.1 L1366.8 1218.6 L1369.2 1217.4 L1371.5 1215.3 L1373.8 1212.5 L1376.2 1208.9 L1378.5 1204.6 L1380.8 1199.6 L1383.2 1193.8 L1385.5 1187.4 L1387.8 1180.4 L1390.2 1172.8 L1392.5 1164.6 L1394.8 1155.9 L1397.2 1146.6 L1399.5 1137.0 L1401.8 1126.9 L1404.2 1116.5 L1406.5 1105.7 L1408.8 1094.6 L1411.2 1083.3 L1413.5 1071.8 L1415.8 1060.0 L1418.2 1048.1 L1420.5 1036.2 L1422.8 1024.1 L1425.2 1011.9 L1427.5 999.8 L1429.8 987.6 L1432.2 975.5 L1434.5 963.4 L1436.8 951.3 L1439.2 939.4 L1441.5 927.5 L1443.9 915.8 L1446.2 904.1 L1448.5 892.7 L1450.9 881.3 L1453.2 870.2 L1455.5 859.2 L1457.9 848.4 L1460.2 837.7 L1462.5 827.3 L1464.9 817.0 L1467.2 807.0 L1469.5 797.1 L1471.9 787.4 L1474.2 778.0 L1476.5 768.7 L1478.9 759.6 L1481.2 750.7 L1483.5 742.1 L1485.9 733.6 L1488.2 725.3 L1490.5 717.2 L1492.9 709.3 L1495.2 701.5 L1497.5 694.0 L1499.9 686.6 L1502.2 679.4 L1504.5 672.4 L1506.9 665.6 L1509.2 658.9 L1511.5 652.4 L1513.9 646.0 L1516.2 639.8 L1518.5 633.8 L1520.9 627.9 L1523.2 622.2 L1525.5 616.6 L1527.9 611.1 L1530.2 605.8 L1532.5 600.6 L1534.9 595.5 L1537.2 590.5 L1539.5 585.7 L1541.9 581.0 L1544.2 576.4 L1546.5 571.9 L1548.9 567.6 L1551.2 563.3 L1553.5 559.1 L1555.9 555.1 L1558.2 551.1 L1560.5 547.2 L1562.9 543.5 L1565.2 539.8 L1567.5 536.2 L1569.9 532.7 L1572.2 529.3 L1574.5 525.9 L1576.9 522.6 L1579.2 519.4 L1581.5 516.3 L1583.9 513.3 L1586.2 510.3 L1588.5 507.4 L1590.9 504.6 L1593.2 501.8 L1595.5 499.1 L1597.9 496.4 L1600.2 493.8 L1602.5 491.3 L1604.9 488.8 L1607.2 486.4 L1609.5 484.0 L1611.9 481.7 L1614.2 479.4 L1616.5 477.2 L1618.9 475.1 L1621.2 472.9 L1623.5 470.8 L1625.9 468.8 L1628.2 466.8 L1630.6 464.9 L1632.9 463.0 L1635.2 461.1 L1637.6 459.3 L1639.9 457.5 L1642.2 455.7 L1644.6 454.0 L1646.9 452.3 L1649.2 450.7 L1651.6 449.0 L1653.9 447.5 L1656.2 445.9 L1658.6 444.4 L1660.9 442.9 L1663.2 441.4 L1665.6 440.0 L1667.9 438.6 L1670.2 437.2 L1672.6 435.8 L1674.9 434.5 L1677.2 433.2 L1679.6 431.9 L1681.9 430.7 L1684.2 429.4 L1686.6 428.2 L1688.9 427.0 L1691.2 425.9 L1693.6 424.7 L1695.9 423.6 L1698.2 422.5 L1700.6 421.4 L1702.9 420.4 L1705.2 419.3 L1707.6 418.3 L1709.9 417.3 L1712.2 416.3 L1714.6 415.3 L1716.9 414.4 L1719.2 413.4 L1721.6 412.5 L1723.9 411.6 L1726.2 410.7 L1728.6 409.8 L1730.9 408.9 L1733.2 408.1 L1735.6 407.3 L1737.9 406.4 L1740.2 405.6 L1742.6 404.8 L1744.9 404.1 L1747.2 403.3 L1749.6 402.5 L1751.9 401.8 L1754.2 401.1 L1756.6 400.3 L1758.9 399.6 L1761.2 398.9 L1763.6 398.3 L1765.9 397.6 L1768.2 396.9 L1770.6 396.3 L1772.9 395.6 L1775.2 395.0 L1777.6 394.4 L1779.9 393.7 L1782.2 393.1 L1784.6 392.5 L1786.9 392.0 L1789.2 391.4 L1791.6 390.8 L1793.9 390.2 L1796.2 389.7 L1798.6 389.1 L1800.9 388.6 L1803.2 388.1 L1805.6 387.5 L1807.9 387.0 L1810.3 386.5 L1812.6 386.0 L1814.9 385.5 L1817.3 385.0 L1819.6 384.6 L1821.9 384.1 L1824.3 383.6 L1826.6 383.2 L1828.9 382.7 L1831.3 382.3 L1833.6 381.8 L1835.9 381.4 L1838.3 381.0 L1840.6 380.5 L1842.9 380.1 L1845.3 379.7 L1847.6 379.3 L1849.9 378.9 L1852.3 378.5 L1854.6 378.1 L1856.9 377.7 L1859.3 377.3 L1861.6 377.0 L1863.9 376.6 L1866.3 376.2 L1868.6 375.9 L1870.9 375.5 L1873.3 375.2 L1875.6 374.8 L1877.9 374.5 L1880.3 374.1 L1882.6 373.8 L1884.9 373.5 L1887.3 373.1 L1889.6 372.8 L1891.9 372.5 L1894.3 372.2 L1896.6 371.9 L1898.9 371.6 L1901.3 371.3" stroke="#0000a0"/>
<path d="M454.3 464.4 L456.7 464.4 L459.0 464.4 L461.3 464.4 L463.7 464.4 L466.0 464.4 L468.3 464.5 L470.7 464.5 L473.0 464.5 L475.3 464.5 L477.7 464.5 L480.0 464.5 L482.3 464.6 L484.7 464.6 L487.0 464.6 L489.3 464.6 L491.7 464.6 L494.0 464.6 L496.3 464.7 L498.7 464.7 L501.0 464.7 L503.3 464.7 L505.7 464.7 L508.0 464.7 L510.3 464.8 L512.7 464.8 L515.0 464.8 L517.3 464.8 L519.7 464.8 L522.0 464.9 L524.3 464.9 L526.7 464.9 L529.0 464.9 L531.4 464.9 L533.7 465.0 L536.0 465.0 L538.4 465.0 L540.7 465.0 L543.0 465.0 L545.4 465.1 L547.7 465.1 L550.0 465.1 L552.4 465.1 L554.7 465.1 L557.0 465.2 L559.4 465.2 L561.7 465.2 L564.0 465.2 L566.4 465.2 L568.7 465.3 L571.0 465.3 L573.4 465.3 L575.7 465.3 L578.0 465.3 L580.4 465.4 L582.7 465.4 L585.0 465.4 L587.4 465.4 L589.7 465.5 L592.0 465.5 L594.4 465.5 L596.7 465.5 L599.0 465.6 L601.4 465.6 L603.7 465.6 L606.0 465.6 L608.4 465.7 L610.7 465.7 L613.0 465.7 L615.4 465.7 L617.7 465.8 L620.0 465.8 L622.4 465.8 L624.7 465.8 L627.0 465.9 L629.4 465.9 L631.7 465.9 L634.0 465.9 L636.4 466.0 L638.7 466.0 L641.0 466.0 L643.4 466.0 L645.7 466.1 L648.0 466.1 L650.4 466.1 L652.7 466.2 L655.0 466.2 L657.4 466.2 L659.7 466.3 L662.0 466.3 L664.4 466.3 L666.7 466.3 L669.0 466.4 L671.4 466.4 L673.7 466.4 L676.0 466.5 L678.4 466.5 L680.7 466.5 L683.0 466.6 L685.4 466.6 L687.7 466.6 L690.0 466.7 L692.4 466.7 L694.7 466.7 L697.0 466.8 L699.4 466.8 L701.7 466.8 L704.0 466.9 L706.4 466.9 L708.7 466.9 L711.1 467.0 L713.4 467.0 L715.7 467.1 L718.1 467.1 L720.4 467.1 L722.7 467.2 L725.1 467.2 L727.4 467.3 L729.7 467.3 L732.1 467.3 L734.4 467.4 L736.7 467.4 L739.1 467.5 L741.4 467.5 L743.7 467.5 L746.1 467.6 L748.4 467.6 L750.7 467.7 L753.1 467.7 L755.4 467.8 L757.7 467.8 L760.1 467.9 L762.4 467.9 L764.7 468.0 L767.1 468.0 L769.4 468.0 L771.7 468.1 L774.1 468.1 L776.4 468.2 L778.7 468.2 L781.1 468.3 L783.4 468.4 L785.7 468.4 L788.1 468.5 L790.4 468.5 L792.7 468.6 L795.1 468.6 L797.4 468.7 L799.7 468.7 L802.1 468.8 L804.4 468.8 L806.7 468.9 L809.1 469.0 L811.4 469.0 L813.7 469.1 L816.1 469.2 L818.4 469.2 L820.7 469.3 L823.1 469.3 L825.4 469.4 L827.7 469.5 L830.1 469.5 L832.4 469.6 L834.7 469.7 L837.1 469.7 L839.4 469.8 L841.7 469.9 L844.1 470.0 L846.4 470.0 L848.7 470.1 L851.1 470.2 L853.4 470.3 L855.7 470.3 L858.1 470.4 L860.4 470.5 L862.7 470.6 L865.1 470.7 L867.4 470.7 L869.7 470.8 L872.1 470.9 L874.4 471.0 L876.7 471.1 L879.1 471.2 L881.4 471.3 L883.7 471.4 L886.1 471.5 L888.4 471.6 L890.7 471.7 L893.1 471.7 L895.4 471.8 L897.8 472.0 L900.1 472.1 L902.4 472.2 L904.8 472.3 L907.1 472.4 L909.4 472.5 L911.8 472.6 L914.1 472.7 L916.4 472.8 L918.8 472.9 L921.1 473.1 L923.4 473.2 L925.8 473.3 L928.1 473.4 L930.4 473.6 L932.8 473.7 L935.1 473.8 L937.4 474.0 L939.8 474.1 L942.1 474.2 L944.4 474.4 L946.8 474.5 L949.1 474.7 L951.4 474.8 L953.8 475.0 L956.1 475.1 L958.4 475.3 L960.8 475.4 L963.1 475.6 L965.4 475.8 L967.8 475.9 L970.1 476.1 L972.4 476.3 L974.8 476.5 L977.1 476.7 L979.4 476.8 L981.8 477.0 L984.1 477.2 L986.4 477.4 L988.8 477.6 L991.1 477.8 L993.4 478.1 L995.8 478.3 L998.1 478.5 L1000.4 478.7 L1002.8 478.9 L1005.1 479.2 L1007.4 479.4 L1009.8 479.7 L1012.1 479.9 L1014.4 480.2 L1016.8 480.4 L1019.1 480.7 L1021.4 481.0 L1023.8 481.3 L1026.1 481.5 L1028.4 481.8 L1030.8 482.1 L1033.1 482.4 L1035.4 482.7 L1037.8 483.1 L1040.1 483.4 L1042.4 483.7 L1044.8 484.1 L1047.1 484.4 L1049.4 484.8 L1051.8 485.2 L1054.1 485.5 L1056.4 485.9 L1058.8 486.3 L1061.1 486.7 L1063.4 487.2 L1065.8 487.6 L1068.1 488.0 L1070.4 488.5 L1072.8 489.0 L1075.1 489.4 L1077.5 489.9 L1079.8 490.5 L1082.1 491.0 L1084.5 491.5 L1086.8 492.1 L1089.1 492.6 L1091.5 493.2 L1093.8 493.8 L1096.1 494.4 L1098.5 495.1 L1100.8 495.7 L1103.1 496.4 L1105.5 497.1 L1107.8 497.8 L1110.1 498.6 L1112.5 499.3 L1114.8 500.1 L1117.1 500.9 L1119.5 501.8 L1121.8 502.7 L1124.1 503.6 L1126.5 504.5 L1128.8 505.4 L1131.1 506.4 L1133.5 507.5 L1135.8 508.5 L1138.1 509.6 L1140.5 510.8 L1142.8 512.0 L1145.1 513.2 L1147.5 514.5 L1149.8 515.8 L1152.1 517.2 L1154.5 518.6 L1156.8 520.1 L1159.1 521.6 L1161.5 523.2 L1163.8 524.9 L1166.1 526.6 L1168.5 528.5 L1170.8 530.3 L1173.1 532.3 L1175.5 534.4 L1177.8 536.5 L1180.1 538.7 L1182.5 541.1 L1184.8 543.5 L1187.1 546.1 L1189.5 548.7 L1191.8 551.5 L1194.1 554.5 L1196.5 557.6 L1198.8 560.8 L1201.1 564.2 L1203.5 567.7 L1205.8 571.5 L1208.1 575.4 L1210.5 579.5 L1212.8 583.9 L1215.1 588.5 L1217.5 593.4 L1219.8 598.5 L1222.1 603.9 L1224.5 609.6 L1226.8 615.6 L1229.1 622.0 L1231.5 628.8 L1233.8 635.9 L1236.1 643.5 L1238.5 651.6 L1240.8 660.2 L1243.1 669.3 L1245.5 678.9 L1247.8 689.2 L1250.1 700.1 L1252.5 711.7 L1254.8 724.1 L1257.1 737.3 L1259.5 751.3 L1261.8 766.2 L1264.2 782.0 L1266.5 798.9 L1268.8 816.8 L1271.2 835.7 L1273.5 855.8 L1275.8 877.1 L1278.2 899.5 L1280.5 923.0 L1282.8 947.7 L1285.2 973.4 L1287.5 1000.0 L1289.8 1027.5 L1292.2 1055.5 L1294.5 1084.0 L1296.8 1112.4 L1299.2 1140.5 L1301.5 1167.8 L1303.8 1193.9 L1306.2 1218.1 L1308.5 1239.9 L1310.8 1258.7 L1313.2 1274.1 L1315.5 1285.5 L1317.8 1292.6 L1320.2 1295.2 L1320.3 1295.2 L1322.5 1293.2 L1324.8 1286.6 L1327.2 1275.7 L1329.5 1260.9 L1331.8 1242.4 L1334.2 1221.0 L1336.5 1197.0 L1338.8 1171.2 L1341.2 1144.0 L1343.5 1116.0 L1345.8 1087.6 L1348.2 1059.1 L1350.5 1031.0 L1352.8 1003.5 L1355.2 976.7 L1357.5 950.9 L1359.8 926.1 L1362.2 902.5 L1364.5 879.9 L1366.8 858.6 L1369.2 838.3 L1371.5 819.2 L1373.8 801.2 L1376.2 784.3 L1378.5 768.3 L1380.8 753.3 L1383.2 739.2 L1385.5 725.9 L1387.8 713.5 L1390.2 701.8 L1392.5 690.8 L1394.8 680.4 L1397.2 670.7 L1399.5 661.5 L1401.8 652.9 L1404.2 644.8 L1406.5 637.2 L1408.8 629.9 L1411.2 623.1 L1413.5 616.7 L1415.8 610.6 L1418.2 604.9 L1420.5 599.5 L1422.8 594.3 L1425.2 589.4 L1427.5 584.8 L1429.8 580.4 L1432.2 576.3 L1434.5 572.3 L1436.8 568.6 L1439.2 565.0 L1441.5 561.6 L1443.9 558.4 L1446.2 555.3 L1448.5 552.3 L1450.9 549.5 L1453.2 546.8 L1455.5 544.3 L1457.9 541.8 L1460.2 539.5 L1462.5 537.2 L1464.9 535.1 L1467.2 533.0 L1469.5 531.1 L1471.9 529.2 L1474.2 527.4 L1476.5 525.6 L1478.9 524.0 L1481.2 522.4 L1483.5 520.8 L1485.9 519.3 L1488.2 517.9 L1490.5 516.5 L1492.9 515.2 L1495.2 513.9 L1497.5 512.7 L1499.9 511.5 L1502.2 510.4 L1504.5 509.3 L1506.9 508.2 L1509.2 507.2 L1511.5 506.2 L1513.9 505.2 L1516.2 504.3 L1518.5 503.4 L1520.9 502.6 L1523.2 501.7 L1525.5 500.9 L1527.9 500.1 L1530.2 499.4 L1532.5 498.6 L1534.9 497.9 L1537.2 497.2 L1539.5 496.5 L1541.9 495.9 L1544.2 495.3 L1546.5 494.6 L1548.9 494.0 L1551.2 493.5 L1553.5 492.9 L1555.9 492.4 L1558.2 491.8 L1560.5 491.3 L1562.9 490.8 L1565.2 490.3 L1567.5 489.8 L1569.9 489.4 L1572.2 488.9 L1574.5 488.5 L1576.9 488.1 L1579.2 487.7 L1581.5 487.3 L1583.9 486.9 L1586.2 486.5 L1588.5 486.1 L1590.9 485.7 L1593.2 485.4 L1595.5 485.0 L1597.9 484.7 L1600.2 484.4 L1602.5 484.0 L1604.9 483.7 L1607.2 483.4 L1609.5 483.1 L1611.9 482.8 L1614.2 482.5 L1616.5 482.3 L1618.9 482.0 L1621.2 481.7 L1623.5 481.5 L1625.9 481.2 L1628.2 481.0 L1630.6 480.7 L1632.9 480.5 L1635.2 480.3 L1637.6 480.0 L1639.9 479.8 L1642.2 479.6 L1644.6 479.4 L1646.9 479.2 L1649.2 479.0 L1651.6 478.8 L1653.9 478.6 L1656.2 478.4 L1658.6 478.2 L1660.9 478.0 L1663.2 477.8 L1665.6 477.6 L1667.9 477.5 L1670.2 477.3 L1672.6 477.1 L1674.9 477.0 L1677.2 476.8 L1679.6 476.7 L1681.9 476.5 L1684.2 476.4 L1686.6 476.2 L1688.9 476.1 L1691.2 475.9 L1693.6 475.8 L1695.9 475.6 L1698.2 475.5 L1700.6 475.4 L1702.9 475.2 L1705.2 475.1 L1707.6 475.0 L1709.9 474.9 L1712.2 474.7 L1714.6 474.6 L1716.9 474.5 L1719.2 474.4 L1721.6 474.3 L1723.9 474.2 L1726.2 474.1 L1728.6 474.0 L1730.9 473.9 L1733.2 473.8 L1735.6 473.7 L1737.9 473.6 L1740.2 473.5 L1742.6 473.4 L1744.9 473.3 L1747.2 473.2 L1749.6 473.1 L1751.9 473.0 L1754.2 472.9 L1756.6 472.8 L1758.9 472.7 L1761.2 472.7 L1763.6 472.6 L1765.9 472.5 L1768.2 472.4 L1770.6 472.3 L1772.9 472.3 L1775.2 472.2 L1777.6 472.1 L1779.9 472.0 L1782.2 472.0 L1784.6 471.9 L1786.9 471.8 L1789.2 471.7 L1791.6 471.7 L1793.9 471.6 L1796.2 471.5 L1798.6 471.5 L1800.9 471.4 L1803.2 471.4 L1805.6 471.3 L1807.9 471.2 L1810.3 471.2 L1812.6 471.1 L1814.9 471.1 L1817.3 471.0 L1819.6 470.9 L1821.9 470.9 L1824.3 470.8 L1826.6 470.8 L1828.9 470.7 L1831.3 470.7 L1833.6 470.6 L1835.9 470.6 L1838.3 470.5 L1840.6 470.5 L1842.9 470.4 L1845.3 470.4 L1847.6 470.3 L1849.9 470.3 L1852.3 470.2 L1854.6 470.2 L1856.9 470.1 L1859.3 470.1 L1861.6 470.1 L1863.9 470.0 L1866.3 470.0 L1868.6 469.9 L1870.9 469.9 L1873.3 469.8 L1875.6 469.8 L1877.9 469.8 L1880.3 469.7 L1882.6 469.7 L1884.9 469.6 L1887.3 469.6 L1889.6 469.6 L1891.9 469.5 L1894.3 469.5 L1896.6 469.5 L1898.9 469.4 L1901.3 469.4" stroke="#008000"/>
</g>
<g class="curves">
<path d="M402.8 1080.9 H566.2" stroke="#000000"/>
<path d="M402.8 1172.4 H566.2" stroke="#ff0000"/>
<path d="M402.8 1264.7 H566.2" stroke="#0000a0"/>
<path d="M402.8 1357.3 H566.2" stroke="#008000"/>
</g>
<text class="leg" x="633.3 685.7 731.2 775.8 820.2" y="1103.9" transform="scale(0.920 1)">EggSM</text>
<text class="leg" x="633.3 685.7 731.2 775.8 820.2 874.8 898.6 942.6 1000.3 1038.1 1057.2 1082.3 1122.6 1161.4 1201.6 1224.5 1261.0" y="1196.2" transform="scale(0.920 1)">EggSM/FGs (250/1)</text>
<text class="leg" x="633.3 685.7 731.2 775.8 820.2 874.8 898.6 942.6 1000.3 1038.1 1057.2 1084.8 1122.0 1161.4 1201.6 1224.5 1261.0" y="1288.3" transform="scale(0.920 1)">EggSM/FGs (100/1)</text>
<text class="leg" x="633.3 685.7 731.2 775.8 820.2 874.8 898.6 942.6 1000.3 1038.1 1057.2 1082.0 1122.0 1159.0 1184.7 1221.7" y="1380.6" transform="scale(0.920 1)">EggSM/FGs (50/1)</text>
<text class="tick" x="189.9 226.9 249.7 291.3" y="85.0" transform="scale(0.940 1)">0.01</text>
<text class="tick" x="189.9 226.9 249.7 288.8" y="365.0" transform="scale(0.940 1)">0.00</text>
<text class="tick" x="168.9 189.9 226.9 249.7 291.3" y="647.4 645.0 645.0 645.0 645.0" transform="scale(0.940 1)">-0.01</text>
<text class="tick" x="168.9 189.9 226.9 249.7 288.2" y="927.4 925.0 925.0 925.0 925.0" transform="scale(0.940 1)">-0.02</text>
<text class="tick" x="168.9 189.9 226.9 249.7 288.7" y="1207.4 1205.0 1205.0 1205.0 1205.0" transform="scale(0.940 1)">-0.03</text>
<text class="tick" x="168.9 189.9 226.9 249.7 287.5" y="1487.4 1485.0 1485.0 1485.0 1485.0" transform="scale(0.940 1)">-0.04</text>
<text class="tick" x="440.6 484.7" y="1544.8" transform="scale(0.940 1)">20</text>
<text class="tick" x="692.3 732.4" y="1544.8" transform="scale(0.940 1)">25</text>
<text class="tick" x="939.0 978.3" y="1544.8" transform="scale(0.940 1)">30</text>
<text class="tick" x="1186.0 1225.9" y="1544.8" transform="scale(0.940 1)">35</text>
<text class="tick" x="1431.7 1472.7" y="1544.8" transform="scale(0.940 1)">40</text>
<text class="tick" x="1679.1 1724.6" y="1544.8" transform="scale(0.940 1)">45</text>
<text class="tick" x="1932.5 1971.4" y="1544.8" transform="scale(0.940 1)">50</text>
<text class="tick" x="2179.4 2218.4" y="1544.8" transform="scale(0.940 1)">55</text>
<text class="title" x="998.7 1043.0 1086.5 1152.0 1201.9 1242.2 1275.9 1319.3 1345.0 1391.3 1422.6 1463.5 1482.8 1510.3 1544.1 1602.0" y="1653.4" transform="scale(0.940 1)">Temperature (°C)</text>
<text class="title" transform="rotate(-90) scale(0.940 1)" x="-1362.8 -1314.4 -1268.7 -1239.2 -1196.3 -1144.8 -1115.8 -1079.1 -1060.5 -1012.4 -992.0 -967.4 -941.0 -896.6 -851.7 -831.1 -782.4 -762.1 -727.6 -685.7 -661.2 -638.2 -583.9 -540.4 -510.5 -490.6 -450.0 -404.6 -369.7 -349.9 -307.3" y="93.5">Lorentz Fitted First Derivarive</text>
<g fill="#fefefe"><rect x="1129.1" y="1188.9" width="11.9" height="8.8"/><rect x="1149.9" y="1188.9" width="11.3" height="8.8"/><rect x="1000.6" y="1281.0" width="11.9" height="8.8"/><rect x="1021.3" y="1281.0" width="11.3" height="8.8"/><rect x="1129.1" y="1281.0" width="11.9" height="8.8"/><rect x="1149.9" y="1281.0" width="11.3" height="8.8"/><rect x="1092.5" y="1373.3" width="11.9" height="8.8"/><rect x="1113.2" y="1373.3" width="11.3" height="8.8"/><rect x="276.4" y="77.7" width="12.2" height="8.8"/><rect x="297.6" y="77.7" width="11.5" height="8.8"/><rect x="276.4" y="637.7" width="12.2" height="8.8"/><rect x="297.6" y="637.7" width="11.5" height="8.8"/></g>
</g></svg></body></html>
